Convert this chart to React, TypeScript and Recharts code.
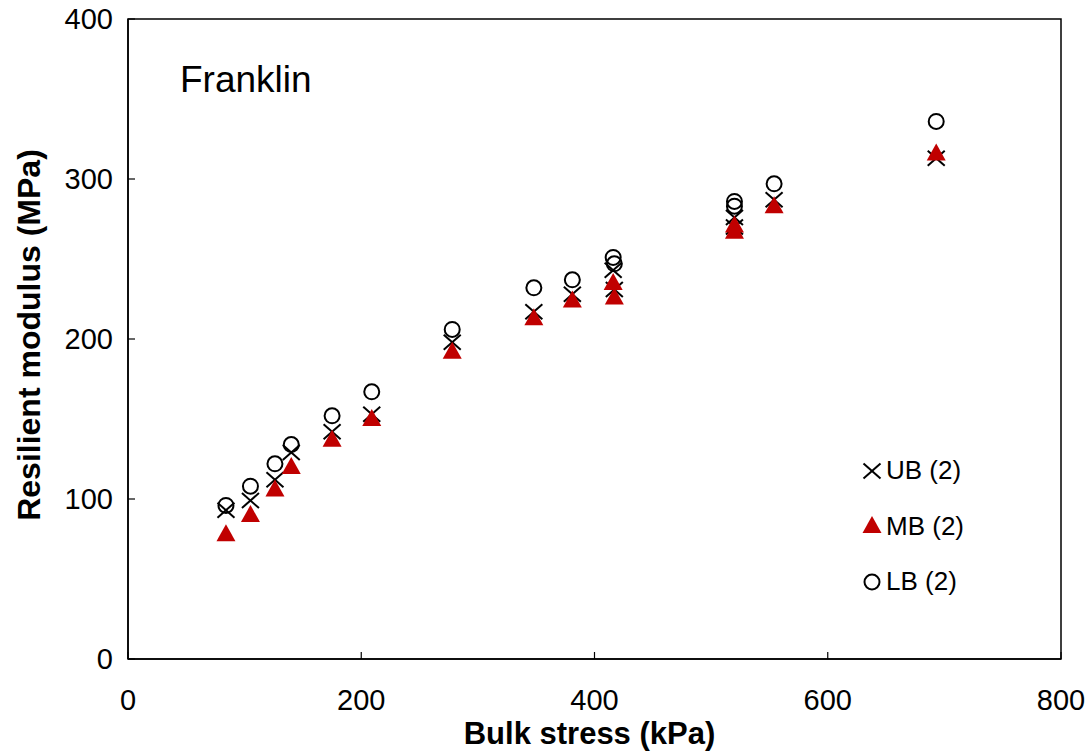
import React from "react";
import {
  ReferenceArea, Scatter, ScatterChart, XAxis, YAxis,
} from "recharts";

const FONT = '"Liberation Sans", Arial, sans-serif';

// bulk stress (kPa) for each test sequence
const bulkStress = [84, 105, 126, 140, 175, 209, 278, 348, 381, 416, 417, 520, 520, 554, 693];
// resilient modulus (MPa)
const ubModulus = [93, 99, 112, 129, 142, 153, 198, 217, 228, 243, 231, 276, 270, 287, 313];
const mbModulus = [78, 90, 106, 120, 137, 150, 192, 213, 224, 235, 226, 271, 267, 283, 316];
const lbModulus = [96, 108, 122, 134, 152, 167, 206, 232, 237, 251, 247, 286, 283, 297, 336];

const xTicks = [0, 200, 400, 600, 800];
const yTicks = [0, 100, 200, 300, 400];

const toPoints = (ys: number[]) => bulkStress.map((x, i) => ({ x, y: ys[i] }));
const ubData = toPoints(ubModulus);
const mbData = toPoints(mbModulus);
const lbData = toPoints(lbModulus);

const RED = "#C00000";

const Cross = ({ cx, cy }: any) => (
  <g stroke="#000" strokeWidth={2}>
    <line x1={cx - 8.5} y1={cy - 7.5} x2={cx + 8.5} y2={cy + 7.5} />
    <line x1={cx - 8.5} y1={cy + 7.5} x2={cx + 8.5} y2={cy - 7.5} />
  </g>
);

const Tri = ({ cx, cy }: any) => (
  <polygon points={`${cx},${cy - 10} ${cx - 9.5},${cy + 7} ${cx + 9.5},${cy + 7}`} fill={RED} />
);

const Ring = ({ cx, cy }: any) => (
  <circle cx={cx} cy={cy} r={7.5} fill="none" stroke="#000" strokeWidth={2} />
);

const M = 30;

const XTick = ({ x, y, payload }: any) => (
  <g>
    <line x1={x} y1={y - M} x2={x} y2={y - M - 7} stroke="#000" strokeWidth={1.2} />
    <text x={x} y={y + 21} textAnchor="middle" fontSize={29} fontFamily={FONT} fill="#000">
      {payload.value}
    </text>
  </g>
);

const YTick = ({ x, y, payload }: any) => (
  <g>
    <line x1={x + M} y1={y} x2={x + M + 7} y2={y} stroke="#000" strokeWidth={1.2} />
    <text x={x + 15} y={y + 10} textAnchor="end" fontSize={29} fontFamily={FONT} fill="#000">
      {payload.value}
    </text>
  </g>
);

const legendItems = [
  { label: "UB (2)", Icon: Cross },
  { label: "MB (2)", Icon: Tri },
  { label: "LB (2)", Icon: Ring },
];

export default function App() {
  return (
    <div style={{ position: "relative", width: 1091, height: 751, background: "#fff", fontFamily: FONT }}>
      <style>{"body{margin:0}"}</style>
      <ScatterChart width={1091} height={751} margin={{ top: 19, right: 30, bottom: 0, left: 0 }}>
        <XAxis
          type="number"
          dataKey="x"
          domain={[0, 800]}
          ticks={xTicks}
          height={92}
          tickSize={0}
          tickMargin={M}
          tick={<XTick />}
          axisLine={{ stroke: "#000", strokeWidth: 1.5 }}
          label={{
            value: "Bulk stress (kPa)", position: "center", dx: -5, dy: 28,
            fontSize: 31, fontWeight: "bold", fill: "#000", fontFamily: FONT,
          }}
        />
        <YAxis
          type="number"
          dataKey="y"
          domain={[0, 400]}
          ticks={yTicks}
          width={128}
          tickSize={0}
          tickMargin={M}
          tick={<YTick />}
          axisLine={{ stroke: "#000", strokeWidth: 1.5 }}
          label={{
            value: "Resilient modulus (MPa)", position: "center", angle: -90, dx: -35, dy: -4,
            fontSize: 32, fontWeight: "bold", fill: "#000", fontFamily: FONT,
          }}
        />
        <ReferenceArea x1={0} x2={800} y1={0} y2={400} fill="none" stroke="#000" strokeWidth={1.5} />
        <Scatter name="UB (2)" data={ubData} shape={<Cross />} isAnimationActive={false} />
        <Scatter name="MB (2)" data={mbData} shape={<Tri />} isAnimationActive={false} />
        <Scatter name="LB (2)" data={lbData} shape={<Ring />} isAnimationActive={false} />
      </ScatterChart>
      <div style={{ position: "absolute", left: 180, top: 59, fontSize: 37, color: "#000" }}>Franklin</div>
      <div style={{ position: "absolute", left: 860, top: 443 }}>
        {legendItems.map(({ label, Icon }) => (
          <div key={label} style={{ display: "flex", alignItems: "center", height: 55.5 }}>
            <svg width={26} height={30}>
              <Icon cx={12} cy={15} />
            </svg>
            <span style={{ fontSize: 26, color: "#000" }}>{label}</span>
          </div>
        ))}
      </div>
    </div>
  );
}
